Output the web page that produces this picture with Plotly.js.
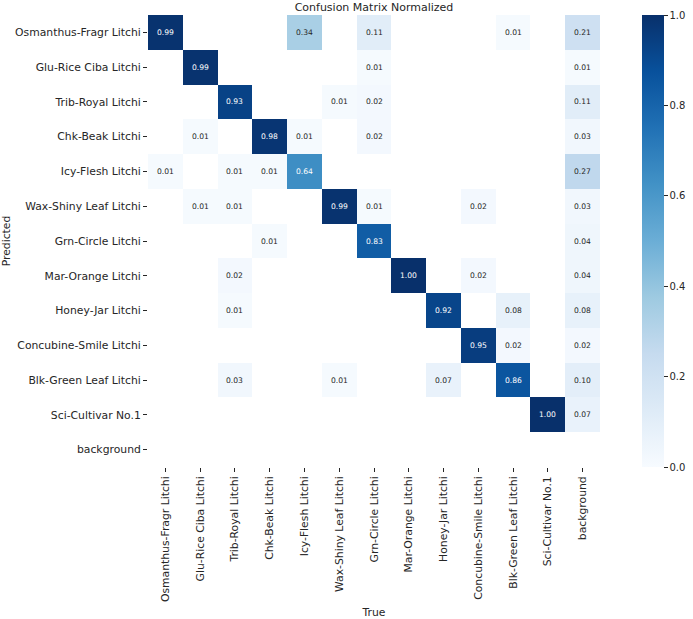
<!DOCTYPE html>
<html>
<head>
<meta charset="utf-8">
<script src="https://cdn.plot.ly/plotly-3.0.1.min.js"></script>
<style>html,body{margin:0;padding:0;background:#fff;}#chart{width:693px;height:619px;}</style>
</head>
<body>
<div id="chart"></div>
<script>
const trueLabels = ["Osmanthus-Fragr Litchi","Glu-Rice Ciba Litchi","Trib-Royal Litchi","Chk-Beak Litchi","Icy-Flesh Litchi","Wax-Shiny Leaf Litchi","Grn-Circle Litchi","Mar-Orange Litchi","Honey-Jar Litchi","Concubine-Smile Litchi","Blk-Green Leaf Litchi","Sci-Cultivar No.1","background"];
const predLabels = trueLabels.slice();

// rows = Predicted, columns = True; 0 means empty cell
const rowOsmanthus = [0.99,0,0,0,0.34,0,0.11,0,0,0,0.01,0,0.21];
const rowGluRice   = [0,0.99,0,0,0,0,0.01,0,0,0,0,0,0.01];
const rowTrib      = [0,0,0.93,0,0,0.01,0.02,0,0,0,0,0,0.11];
const rowChk       = [0,0.01,0,0.98,0.01,0,0.02,0,0,0,0,0,0.03];
const rowIcy       = [0.01,0,0.01,0.01,0.64,0,0,0,0,0,0,0,0.27];
const rowWax       = [0,0.01,0.01,0,0,0.99,0.01,0,0,0.02,0,0,0.03];
const rowGrn       = [0,0,0,0.01,0,0,0.83,0,0,0,0,0,0.04];
const rowMar       = [0,0,0.02,0,0,0,0,1.00,0,0.02,0,0,0.04];
const rowHoney     = [0,0,0.01,0,0,0,0,0,0.92,0,0.08,0,0.08];
const rowConcubine = [0,0,0,0,0,0,0,0,0,0.95,0.02,0,0.02];
const rowBlk       = [0,0,0.03,0,0,0.01,0,0,0.07,0,0.86,0,0.10];
const rowSci       = [0,0,0,0,0,0,0,0,0,0,0,1.00,0.07];
const rowBackground= [0,0,0,0,0,0,0,0,0,0,0,0,0];

const matrix = [rowOsmanthus,rowGluRice,rowTrib,rowChk,rowIcy,rowWax,rowGrn,rowMar,rowHoney,rowConcubine,rowBlk,rowSci,rowBackground];
const z = matrix.map(r => r.map(v => v === 0 ? null : v));

const blues = [[0,'#f7fbff'],[0.125,'#deebf7'],[0.25,'#c6dbef'],[0.375,'#9ecae1'],[0.5,'#6baed6'],[0.625,'#4292c6'],[0.75,'#2171b5'],[0.875,'#08519c'],[1,'#08306b']];

const annotations = [];
matrix.forEach((row, i) => row.forEach((v, j) => {
  if (v !== 0) annotations.push({
    x: trueLabels[j], y: predLabels[i], xref: 'x', yref: 'y',
    text: v.toFixed(2), showarrow: false,
    font: {family: 'DejaVu Sans', size: 7.6, color: v > 0.5 ? '#ffffff' : '#262626'}
  });
}));

const trace = {
  type: 'heatmap', x: trueLabels, y: predLabels, z: z,
  colorscale: blues, zmin: 0, zmax: 1, hoverongaps: false,
  colorbar: {
    x: 1.093, xanchor: 'left', y: 0.5, yanchor: 'middle', len: 1, lenmode: 'fraction',
    thickness: 22, outlinewidth: 0, xpad: 0, ypad: 0, tickvals: [0,0.2,0.4,0.6,0.8,1.0],
    ticktext: ['0.0','0.2','0.4','0.6','0.8','1.0'], ticks: 'outside', ticklen: 4,
    tickcolor: '#262626', tickfont: {family: 'DejaVu Sans', size: 10, color: '#262626'}
  }
};

const layout = {
  width: 693, height: 619,
  margin: {l: 148, r: 93, t: 15, b: 152, autoexpand: false},
  paper_bgcolor: '#fff', plot_bgcolor: '#fff',
  font: {family: 'DejaVu Sans', color: '#262626'},
  title: {text: 'Confusion Matrix Normalized', font: {family: 'DejaVu Sans', size: 11, color: '#262626'},
          xref: 'paper', x: 0.5, xanchor: 'center', yref: 'container', y: 0.9887, yanchor: 'middle'},
  xaxis: {type: 'category', tickangle: -90, ticks: 'outside', ticklen: 4, tickcolor: '#262626',
          tickfont: {family: 'DejaVu Sans', size: 10.8, color: '#262626'}, showgrid: false, zeroline: false,
          showline: false, automargin: false,
          title: {text: 'True', font: {family: 'DejaVu Sans', size: 10.8, color: '#262626'}, standoff: 10}},
  yaxis: {type: 'category', autorange: 'reversed', ticks: 'outside', ticklen: 4, tickcolor: '#262626',
          tickfont: {family: 'DejaVu Sans', size: 10.8, color: '#262626'}, showgrid: false, zeroline: false,
          showline: false, automargin: false,
          title: {text: 'Predicted', font: {family: 'DejaVu Sans', size: 10.8, color: '#262626'}, standoff: 6}},
  annotations: annotations
};

Plotly.newPlot('chart', [trace], layout, {displayModeBar: false, staticPlot: true});
</script>
</body>
</html>
